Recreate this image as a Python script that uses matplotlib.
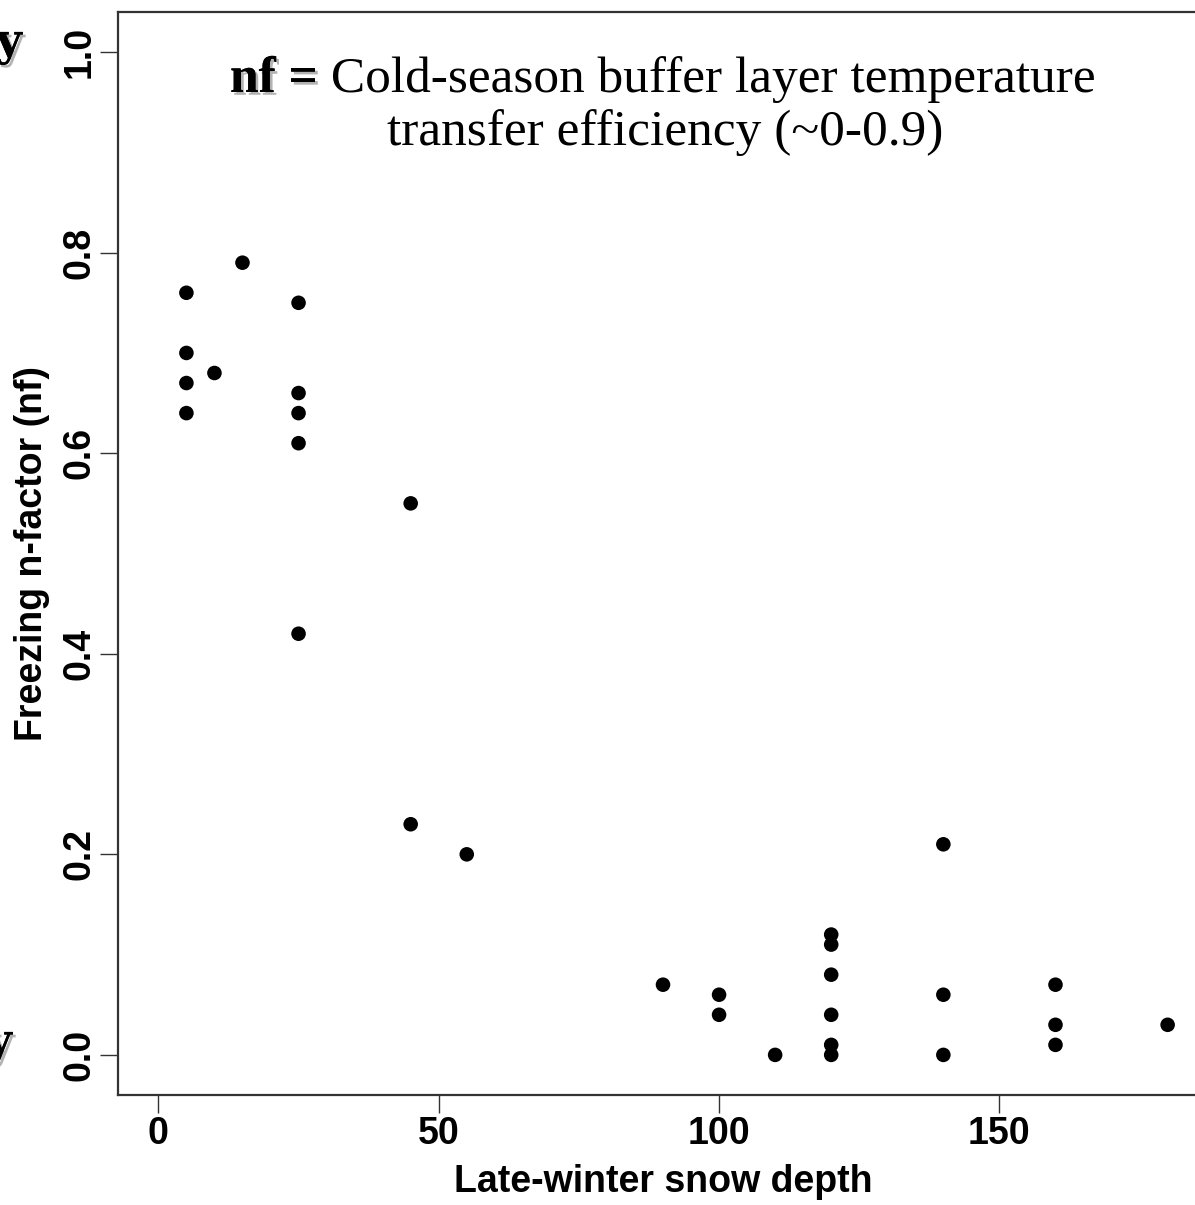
import matplotlib
matplotlib.use("Agg")
import matplotlib.pyplot as plt
import matplotlib.patheffects as pe

# snow depth (x) and freezing n-factor (y)
snow_depth = [5, 5, 5, 5, 10, 15,
              25, 25, 25, 25, 25,
              45, 45, 55,
              90, 100, 100, 110,
              120, 120, 120, 120, 120, 120,
              140, 140, 140,
              160, 160, 160, 180]
n_factor = [0.76, 0.70, 0.67, 0.64, 0.68, 0.79,
            0.75, 0.66, 0.64, 0.61, 0.42,
            0.55, 0.23, 0.20,
            0.07, 0.06, 0.04, 0.00,
            0.12, 0.11, 0.08, 0.04, 0.01, 0.00,
            0.21, 0.06, 0.00,
            0.07, 0.03, 0.01, 0.03]

x_ticks = [0, 50, 100, 150]
y_ticks = [0.0, 0.2, 0.4, 0.6, 0.8, 1.0]

W, H = 1195, 1205
fig = plt.figure(figsize=(W / 100, H / 100), dpi=100)
# axes run past the right edge, the reference is cropped there
ax = fig.add_axes([118 / W, 1 - 1095 / H, (1208 - 118) / W, (1095 - 12) / H])

ax.scatter(snow_depth, n_factor, s=110, c='black', edgecolors='none', zorder=3)

ax.set_xlim(-7.2, 187.2)
ax.set_ylim(-0.04, 1.04)
ax.set_xticks(x_ticks)
ax.set_yticks(y_ticks)
ax.set_yticklabels(["%.1f" % v for v in y_ticks], rotation=90, va='center')

for sp in ax.spines.values():
    sp.set_linewidth(1.6)
    sp.set_color('#333333')
ax.tick_params(direction='out', length=13, width=1.0, color='#333333',
               labelsize=27, pad=2)
for lab in ax.get_xticklabels() + ax.get_yticklabels():
    lab.set_fontweight('bold')
    lab.set_family('Liberation Sans')

ax.set_xlabel("Late-winter snow depth", fontsize=27, fontweight='bold',
              family='Liberation Sans', labelpad=9)
ax.set_ylabel("Freezing n-factor (nf)", fontsize=27, fontweight='bold',
              family='Liberation Sans', labelpad=8)

# annotation text with a drop-shadowed bold "nf"
shadow = [pe.withSimplePatchShadow(offset=(2, -2), shadow_rgbFace='gray', alpha=0.6), pe.Normal()]
t1 = fig.text(230 / W, 1 - 92 / H, "nf =", fontsize=37, fontweight='bold',
              family='Liberation Serif', va='baseline', ha='left', path_effects=shadow)
ax.annotate(" Cold-season buffer layer temperature", xy=(1, 0), xycoords=t1,
            fontsize=37, family='Liberation Serif', va='bottom', ha='left')
fig.text(665 / W, 1 - 145 / H, "transfer efficiency (~0-0.9)", fontsize=37,
         family='Liberation Serif', va='baseline', ha='center')

# cropped letters at the left edge of the reference
fig.text(-4 / W, 1 - 55 / H, "y", fontsize=32, fontweight='bold',
         family='DejaVu Serif', va='baseline', ha='left', path_effects=shadow)
fig.text(-14 / W, 1 - 1055 / H, "y", fontsize=32, fontweight='bold',
         family='DejaVu Serif', va='baseline', ha='left', path_effects=shadow)

fig.savefig("out.png", dpi=100)
